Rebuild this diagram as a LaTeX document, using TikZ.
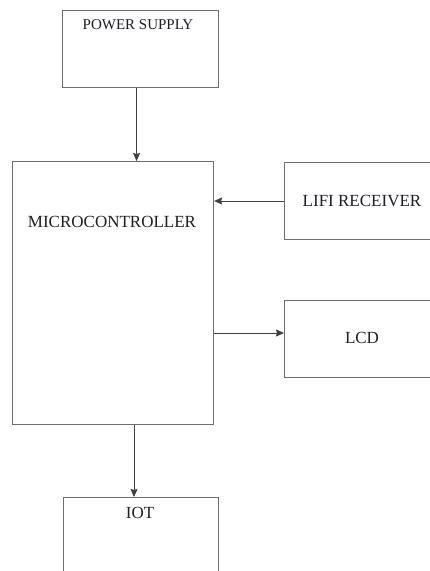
\documentclass[tikz,border=0pt]{standalone}
\usepackage{fontspec}
\setmainfont{Liberation Serif}
\usetikzlibrary{arrows.meta}
\definecolor{boxgray}{HTML}{6E6E6E}
\definecolor{arrowgray}{HTML}{404040}
\definecolor{txt}{HTML}{1E1E28}
\begin{document}
\begin{tikzpicture}[x=1pt,y=-1pt,
  blockbox/.style={draw=boxgray, line width=1.1pt, inner sep=0pt, anchor=north west},
  lbl/.style={text=txt, font=\fontsize{17}{20}\selectfont, inner sep=0pt},
  arr/.style={draw=arrowgray, line width=0.9pt, -{Stealth[length=8pt,width=7pt,inset=1pt]}}]
\useasboundingbox[fill=white] (0,0) rectangle (430,571);
% boxes
\node[blockbox, minimum width=156pt, minimum height=77pt] (ps) at (62,10) {};
\node[blockbox, minimum width=201pt, minimum height=263pt] (mc) at (12,161) {};
\node[blockbox, minimum width=156pt, minimum height=77pt] (lifi) at (284,162) {};
\node[blockbox, minimum width=156pt, minimum height=77pt] (lcd) at (284,300) {};
\node[blockbox, minimum width=155pt, minimum height=77pt] (iot) at (63,497) {};
% labels
\node[lbl, font=\fontsize{15}{18}\selectfont] (pst) at (138,25) {POWER SUPPLY};
\node[lbl] (mct) at (112,222) {MICROCONTROLLER};
\node[lbl] (lifit) at (362,200.5) {LIFI RECEIVER};
\node[lbl] (lcdt) at (362,337.5) {LCD};
\node[lbl] (iott) at (140,513) {IOT};
% connectors
\draw[arr] ([xshift=-4pt]ps.south) -- ([xshift=-4pt]ps.south |- mc.north);
\draw[arr] (lifi.west |- 0,201) -- (mc.east |- 0,201);
\draw[arr] (mc.east |- 0,333) -- (lcd.west |- 0,333);
\draw[arr] (mc.south -| 134,0) -- (iot.north -| 134,0);
\end{tikzpicture}
\end{document}
